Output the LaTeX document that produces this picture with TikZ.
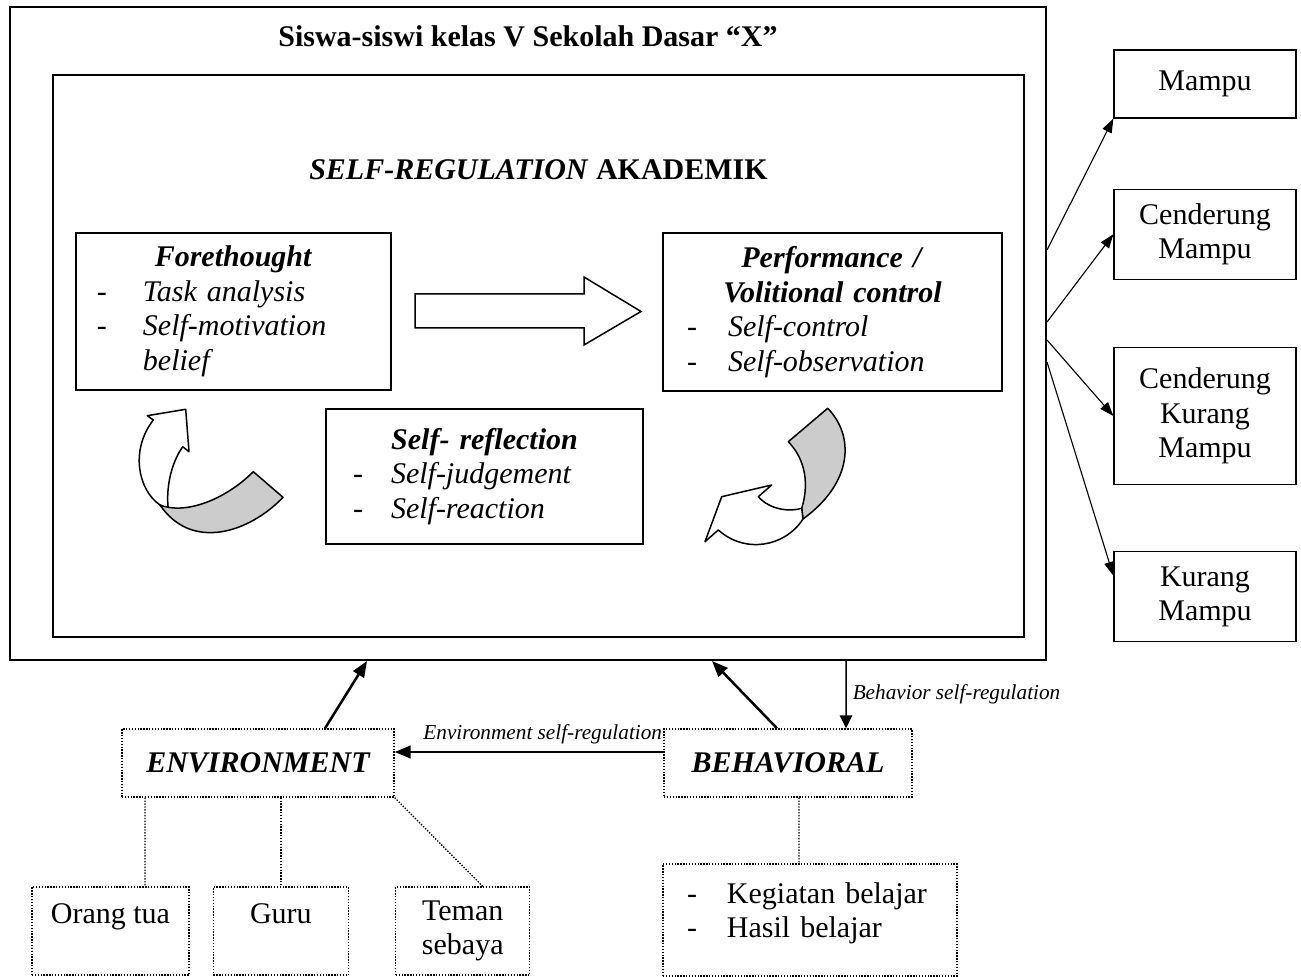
\documentclass[tikz,border=0pt]{standalone}
\usepackage{fontspec}
\setmainfont{Liberation Serif}
\usetikzlibrary{arrows.meta,positioning}
\definecolor{pita}{gray}{0.8}
\newcommand{\kepala}[1]{\hspace*{\fill}\textbf{\textit{#1}}\hspace*{\fill}\mbox{}}
\newcommand{\butir}[2]{\makebox[#1][l]{-}#2}

\begin{document}
\begin{tikzpicture}[x=0.4pt,y=-0.4pt,
  >={Triangle[length=5.6pt,width=4pt]},
  box/.style={draw,line width=0.5pt,inner sep=0pt,align=center},
  lst/.style={draw,line width=0.5pt,inner ysep=0pt,align=left},
  titik/.style={line width=0.55pt,dash pattern=on 0.55pt off 0.6pt},
  dotbox/.style={draw,titik,inner sep=0pt,align=center},
  hasil/.style={box,minimum width=72.8pt},
  tipis/.style={->,line width=0.45pt},
  tebal/.style={->,line width=1pt,>={Triangle[length=6.4pt,width=5pt]}},
  lbl/.style={font=\fontsize{8.5}{10}\selectfont\itshape,inner sep=0pt},
  ribbon/.style={draw,line width=0.6pt,line join=round}]
  \fontsize{12}{13.8}\selectfont
  \useasboundingbox (0,0) rectangle (1301,977);

  \node[box,line width=0.8pt,minimum width=414.4pt,minimum height=261.2pt] (kelas) at (528,333.5) {};
  \node[font=\bfseries,anchor=base] (judul) at (528,47) {Siswa-siswi kelas V Sekolah Dasar “X”};
  \node[box,line width=0.6pt,minimum width=388.4pt,minimum height=224.8pt] (srl) at (538.5,356) {};
  \node[font=\bfseries,anchor=base] (srljudul) at (538.5,180) {\textit{SELF-REGULATION} AKADEMIK};

  \node[lst,minimum width=126pt,minimum height=62.8pt,inner xsep=8.4pt,text width=109.2pt] (fore) at (233.5,311.5)
    {\kepala{Forethought}\\ \butir{18.4pt}{\textit{Task analysis}}\\ \butir{18.4pt}{\textit{Self-motivation}}\\ \hspace*{18.4pt}\textit{belief}};
  \node[lst,minimum width=135.6pt,minimum height=63.2pt,inner xsep=9.6pt,text width=116.4pt] (perf) at (832.5,312)
    {\kepala{Performance /}\\ \kepala{Volitional control}\\ \butir{16.4pt}{\textit{Self-control}}\\ \butir{16.4pt}{\textit{Self-observation}}};
  \node[lst,minimum width=126.8pt,minimum height=54pt,inner xsep=10.8pt,text width=105.2pt] (refl) at (484.5,476.5)
    {\kepala{Self- reflection}\\ \butir{15.2pt}{\textit{Self-judgement}}\\ \butir{15.2pt}{\textit{Self-reaction}}};

  \draw[line width=0.6pt] (415,294) -- (584,294) -- (584,277) -- (641,311.5) -- (584,345) -- (584,328) -- (415,328) -- cycle;

  \draw[ribbon,fill=white] (160,505) .. controls (138,490) and (130,450) .. (153.3,420) -- (147.3,415.7) -- (185.7,409.3) -- (189,451.7) -- (182.7,446.7) .. controls (170,465) and (166,490) .. (168.3,509) -- cycle;
  \draw[ribbon,fill=pita] (160,505) .. controls (185,515) and (225,500) .. (253.3,471.7) -- (283,497.3) .. controls (250,532) and (192,552) .. (160,505) -- cycle;

  \draw[ribbon,fill=pita] (788.3,441.7) -- (827.7,408.3) .. controls (854,435) and (854,482) .. (803,519) -- (801.7,508.3) .. controls (809,485) and (806,460) .. (788.3,441.7) -- cycle;
  \draw[ribbon,fill=white] (801.7,508.3) .. controls (790,512) and (770,510) .. (758.3,496.7) -- (771.7,485) -- (721.7,496.7) -- (705,541.7) -- (718.3,530) .. controls (745,554) and (785,547) .. (803,519) -- cycle;

  \node[hasil,minimum height=27.2pt] (mampu) at (1205,84) {Mampu};
  \node[hasil,minimum height=36pt,below=28pt of mampu] (cm) {Cenderung\\Mampu};
  \node[hasil,minimum height=54.8pt,below=26.8pt of cm] (ckm) {Cenderung\\Kurang\\Mampu};
  \node[hasil,minimum height=36pt,below=26.4pt of ckm] (km) {Kurang\\Mampu};

  \draw[tipis] ([yshift=33.4pt]kelas.east) -- (mampu.south west);
  \draw[tipis] ([yshift=4.6pt]kelas.east) -- (cm.west);
  \draw[tipis] ([yshift=-2.6pt]kelas.east) -- (ckm.west);
  \draw[tipis] ([yshift=-11.4pt]kelas.east) -- ([yshift=8.4pt]km.west);

  \node[dotbox,minimum width=108.8pt,minimum height=27.2pt,font=\bfseries\itshape] (env) at (258,763) {ENVIRONMENT};
  \node[dotbox,minimum width=99.2pt,minimum height=27.2pt,font=\bfseries\itshape] (beh) at (788,763) {BEHAVIORAL};

  \draw[tebal] ([xshift=26.8pt]env.north) -- ([xshift=-64.4pt]kelas.south);
  \draw[tebal] ([xshift=-4.4pt]beh.north) -- ([xshift=73.6pt]kelas.south);
  \draw[->,line width=0.6pt,>={Triangle[length=5.2pt,width=5pt]}] ([xshift=127.2pt]kelas.south) -- ([xshift=23.2pt]beh.north)
    node[lbl,midway,right=2.4pt] {Behavior self-regulation};
  \draw[tebal] ([yshift=4.4pt]beh.west) -- ([yshift=4.4pt]env.east)
    node[lbl,pos=0,anchor=base east,yshift=5pt] {Environment self-regulation};

  \node[dotbox,minimum width=62.8pt,minimum height=35.2pt] (ortu) at (110.5,931) {Orang tua\\ \mbox{}};
  \node[dotbox,minimum width=54pt,minimum height=35.2pt,right=9.2pt of ortu] (guru) {Guru\\ \mbox{}};
  \node[dotbox,minimum width=53.6pt,minimum height=35.2pt,right=18.4pt of guru] (teman) {Teman\\sebaya};
  \node[dotbox,align=left,inner xsep=9.6pt,text width=98.4pt,minimum height=44.8pt] (kegiatan) at (810,920)
    {\butir{16pt}{Kegiatan belajar}\\ \butir{16pt}{Hasil belajar}\\[-6pt] \mbox{}};

  \draw[titik] ([xshift=-45.2pt]env.south) -- ([xshift=13.8pt]ortu.north);
  \draw[titik] (guru.north |- env.south) -- (guru.north);
  \draw[titik] (env.south east) -- ([xshift=8pt]teman.north);
  \draw[titik] ([xshift=4.4pt]beh.south) -- ([xshift=-4.4pt]kegiatan.north);
\end{tikzpicture}
\end{document}
